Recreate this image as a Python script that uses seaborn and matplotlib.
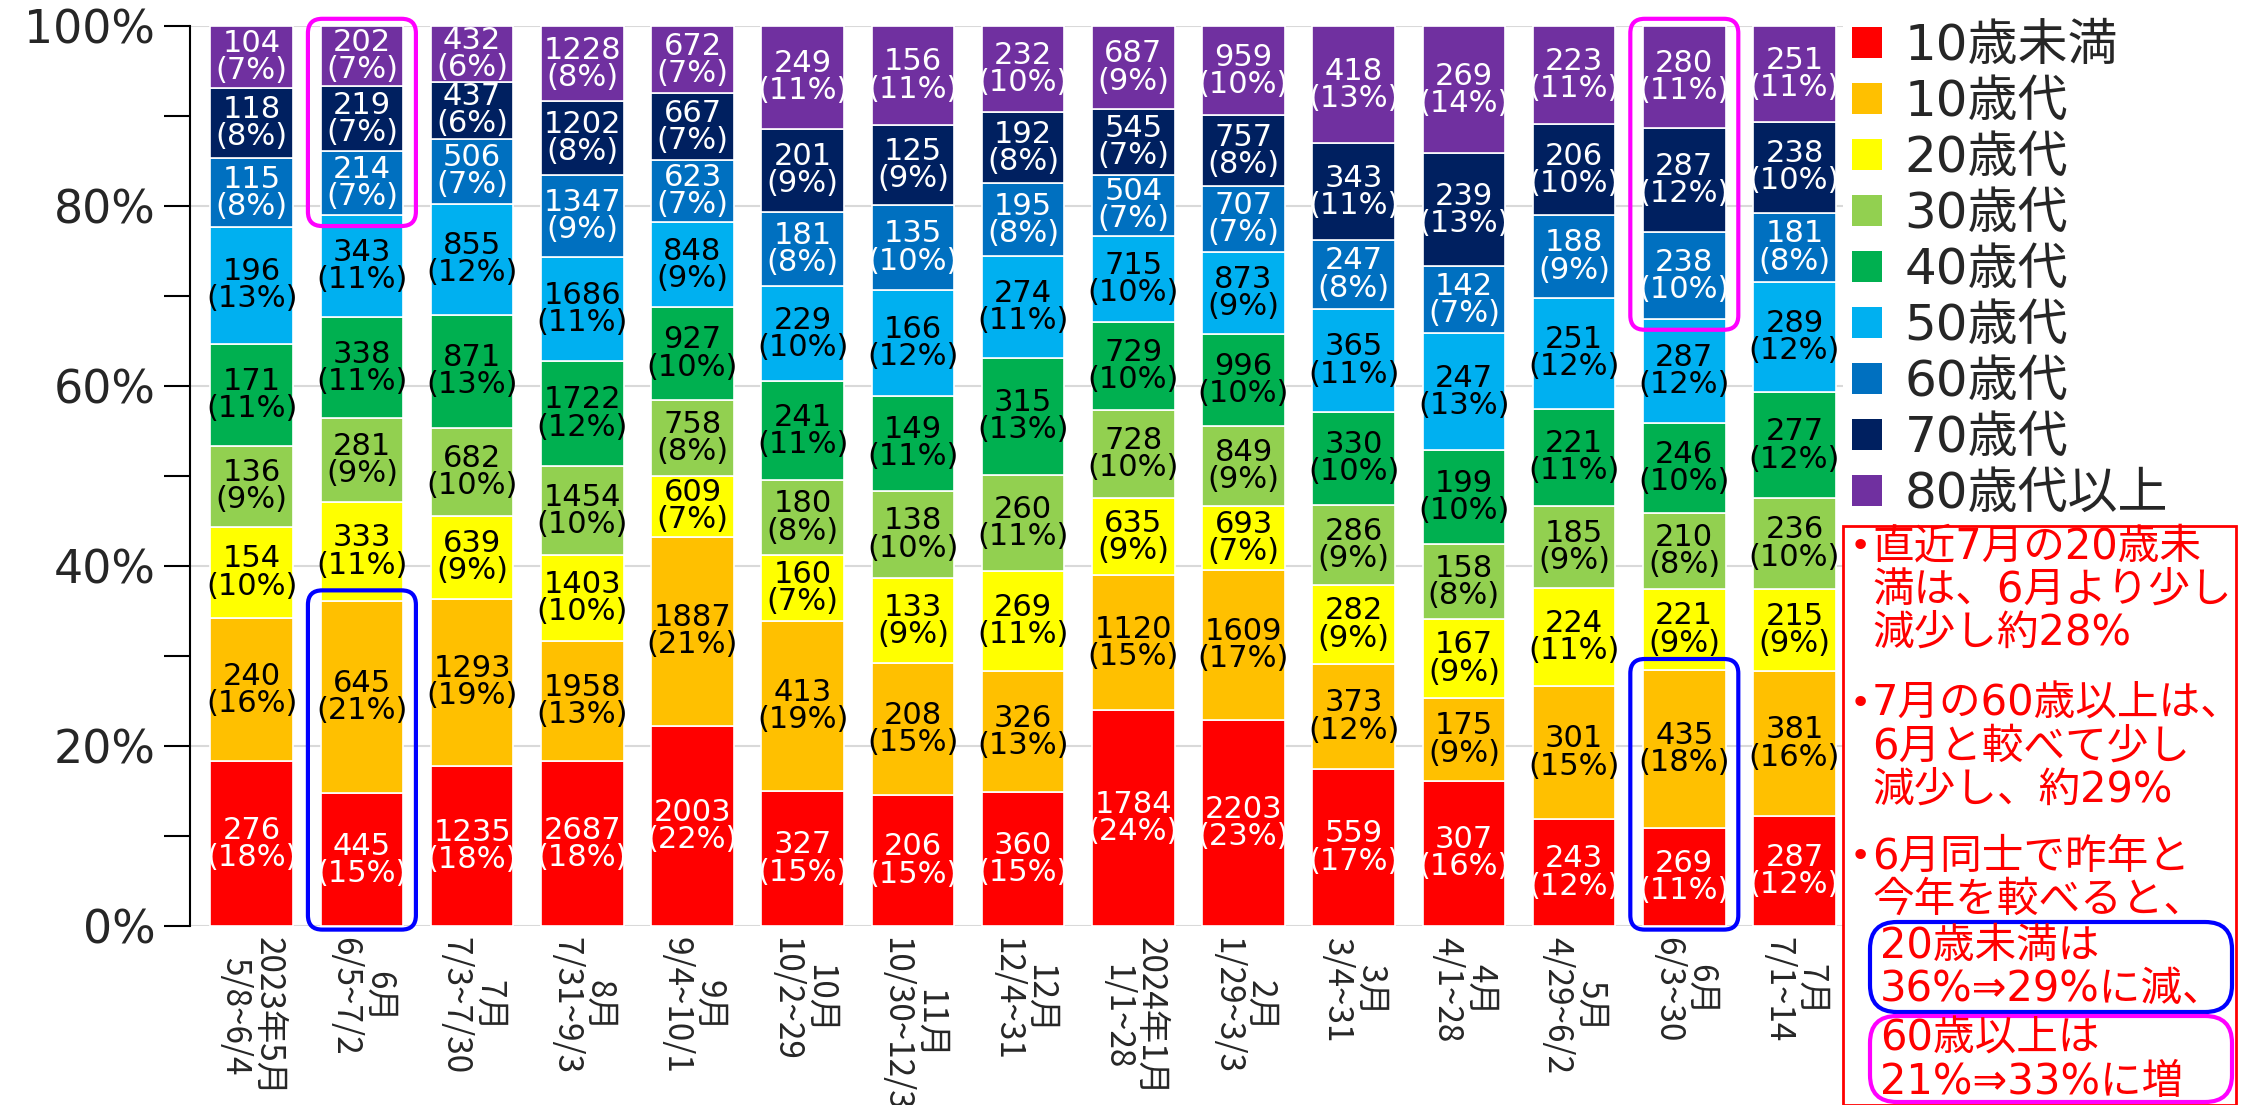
import numpy as np
import pandas as pd
import matplotlib
matplotlib.use("Agg")
import matplotlib.pyplot as plt
import seaborn as sns
from matplotlib.patches import FancyBboxPatch, Rectangle, Patch

# ---------------- data ----------------
periods = ["2023年5月\n5/8~6/4", "6月\n6/5~7/2", "7月\n7/3~7/30", "8月\n7/31~9/3",
           "9月\n9/4~10/1", "10月\n10/2~29", "11月\n10/30~12/3", "12月\n12/4~31",
           "2024年1月\n1/1~28", "2月\n1/29~3/3", "3月\n3/4~31", "4月\n4/1~28",
           "5月\n4/29~6/2", "6月\n6/3~30", "7月\n7/1~14"]
ages = ["10歳未満", "10歳代", "20歳代", "30歳代", "40歳代", "50歳代", "60歳代", "70歳代", "80歳代以上"]
colors = ["#FF0000", "#FFC000", "#FFFF00", "#92D050", "#00B050", "#00B0F0", "#0070C0", "#002060", "#7030A0"]
label_colors = ["white", "black", "black", "black", "black", "black", "white", "white", "white"]

u10 = [276, 445, 1235, 2687, 2003, 327, 206, 360, 1784, 2203, 559, 307, 243, 269, 287]
a10 = [240, 645, 1293, 1958, 1887, 413, 208, 326, 1120, 1609, 373, 175, 301, 435, 381]
a20 = [154, 333, 639, 1403, 609, 160, 133, 269, 635, 693, 282, 167, 224, 221, 215]
a30 = [136, 281, 682, 1454, 758, 180, 138, 260, 728, 849, 286, 158, 185, 210, 236]
a40 = [171, 338, 871, 1722, 927, 241, 149, 315, 729, 996, 330, 199, 221, 246, 277]
a50 = [196, 343, 855, 1686, 848, 229, 166, 274, 715, 873, 365, 247, 251, 287, 289]
a60 = [115, 214, 506, 1347, 623, 181, 135, 195, 504, 707, 247, 142, 188, 238, 181]
a70 = [118, 219, 437, 1202, 667, 201, 125, 192, 545, 757, 343, 239, 206, 287, 238]
a80 = [104, 202, 432, 1228, 672, 249, 156, 232, 687, 959, 418, 269, 223, 280, 251]
series = [u10, a10, a20, a30, a40, a50, a60, a70, a80]

yticks = [0, 0.2, 0.4, 0.6, 0.8, 1.0]
ytick_labels = ["0%", "20%", "40%", "60%", "80%", "100%"]

note_lines = ["直近7月の20歳未", "満は、6月より少し", "減少し約28%",
              "7月の60歳以上は、", "6月と較べて少し", "減少し、約29%",
              "6月同士で昨年と", "今年を較べると、",
              "20歳未満は", "36%⇒29%に減、", "60歳以上は", "21%⇒33%に増"]

# ---------------- style ----------------
sns.set_theme(style="white")
plt.rcParams["font.family"] = ["DejaVu Sans", "Noto Sans CJK JP"]

W, H = 2241, 1105
fig = plt.figure(figsize=(W / 100, H / 100), dpi=100)
ax_l, ax_r, ax_t, ax_b = 190, 1843, 26, 926
ax = fig.add_axes([ax_l / W, 1 - ax_b / H, (ax_r - ax_l) / W, (ax_b - ax_t) / H])

rows = []
for age, vals in zip(ages, series):
    for i, v in enumerate(vals):
        rows.append({"pos": i, "age": age, "count": v})
df = pd.DataFrame(rows)

sns.histplot(data=df, x="pos", hue="age", weights="count", multiple="fill",
             discrete=True, shrink=0.75, hue_order=ages[::-1],
             palette=dict(zip(ages, colors)), alpha=1, edgecolor="white",
             linewidth=1.2, legend=False, ax=ax)

xlim = (-0.56, 14.44)
ax.set_xlim(*xlim)
ax.set_ylim(0, 1)

# axes styling
for s in ["top", "right", "bottom"]:
    ax.spines[s].set_visible(False)
ax.spines["left"].set_color("black")
ax.spines["left"].set_linewidth(1.5)
ax.set_yticks(yticks)
ax.set_yticklabels(ytick_labels, fontsize=33)
ax.set_yticks([0.1, 0.3, 0.5, 0.7, 0.9], minor=True)
ax.tick_params(axis="y", which="both", length=19, width=1.5, color="black",
               direction="out", left=True, pad=6)
ax.yaxis.grid(True, which="major", color="#d9d9d9", linewidth=1.5)
ax.xaxis.grid(False)
ax.set_axisbelow(True)
ax.set_ylabel("")
ax.set_xlabel("")
ax.set_xticks(range(len(periods)))
ax.set_xticklabels(periods, rotation=-90, ha="center", va="top", fontsize=24,
                   family=["Noto Sans CJK JP"], linespacing=0.95)
ax.tick_params(axis="x", length=0, pad=8)

# segment labels
totals = np.sum(np.array(series), axis=0)
for i in range(len(periods)):
    base = 0.0
    for k, vals in enumerate(series):
        frac = vals[i] / totals[i]
        pct = int(np.floor(frac * 100 + 0.5))
        ax.text(i, base + frac / 2, f"{vals[i]}\n({pct}%)", ha="center", va="center",
                fontsize=22, color=label_colors[k], linespacing=0.92, zorder=5)
        base += frac

# highlight boxes on the bars
px_x = (ax_r - ax_l) / (xlim[1] - xlim[0])
px_y = (ax_b - ax_t) / 1.0
aspect = px_x / px_y
for i in (1, 13):
    t = totals[i]
    old_bottom = (u10[i] + a10[i] + a20[i] + a30[i] + a40[i] + a50[i]) / t
    young_top = (u10[i] + a10[i]) / t
    hw = 0.49
    mag = FancyBboxPatch((i - hw, old_bottom - 0.012), 2 * hw,
                         1.008 - (old_bottom - 0.012),
                         boxstyle="round,pad=0,rounding_size=0.13",
                         mutation_aspect=aspect, fill=False, edgecolor="#FF00FF",
                         linewidth=3, zorder=6, clip_on=False)
    ax.add_patch(mag)
    blu = FancyBboxPatch((i - hw, -0.004), 2 * hw, young_top + 0.016,
                         boxstyle="round,pad=0,rounding_size=0.13",
                         mutation_aspect=aspect, fill=False, edgecolor="#0000FF",
                         linewidth=3, zorder=6, clip_on=False)
    ax.add_patch(blu)

# legend
handles = [Patch(facecolor=c, edgecolor="none", label=a) for a, c in zip(ages, colors)]
fig.legend(handles=handles, loc="upper left", bbox_to_anchor=(1852 / W, 1 - 22 / H),
           frameon=False, fontsize=36, handlelength=0.6, handleheight=0.6,
           handletextpad=0.45, labelspacing=0.16, borderaxespad=0, borderpad=0)

# note box
fig.add_artist(Rectangle((1843 / W, 0), (2236 - 1843) / W, (H - 526) / H,
                         transform=fig.transFigure, fill=False, edgecolor="red",
                         linewidth=2))
line_y = [547, 590, 633, 704, 747, 790, 857, 900, 946, 989, 1039, 1082]
bullets = {0, 3, 6}
for j, (txt, y) in enumerate(zip(note_lines, line_y)):
    x0 = 1872 if j < 8 else 1880
    fig.text(x0 / W, 1 - y / H, txt, ha="left", va="center", fontsize=30, color="red")
    if j in bullets:
        fig.text(1850 / W, 1 - y / H, "•", ha="left", va="center", fontsize=26, color="red")

fig.add_artist(FancyBboxPatch((1870 / W, 1 - 1012 / H), (2232 - 1870) / W, 90 / H,
                              boxstyle="round,pad=0,rounding_size=0.012",
                              mutation_aspect=W / H, transform=fig.transFigure,
                              fill=False, edgecolor="#0000FF", linewidth=3))
fig.add_artist(FancyBboxPatch((1870 / W, 1 - 1102 / H), (2232 - 1870) / W, 86 / H,
                              boxstyle="round,pad=0,rounding_size=0.012",
                              mutation_aspect=W / H, transform=fig.transFigure,
                              fill=False, edgecolor="#FF00FF", linewidth=3))

fig.savefig("out.png", dpi=100, facecolor="white")
